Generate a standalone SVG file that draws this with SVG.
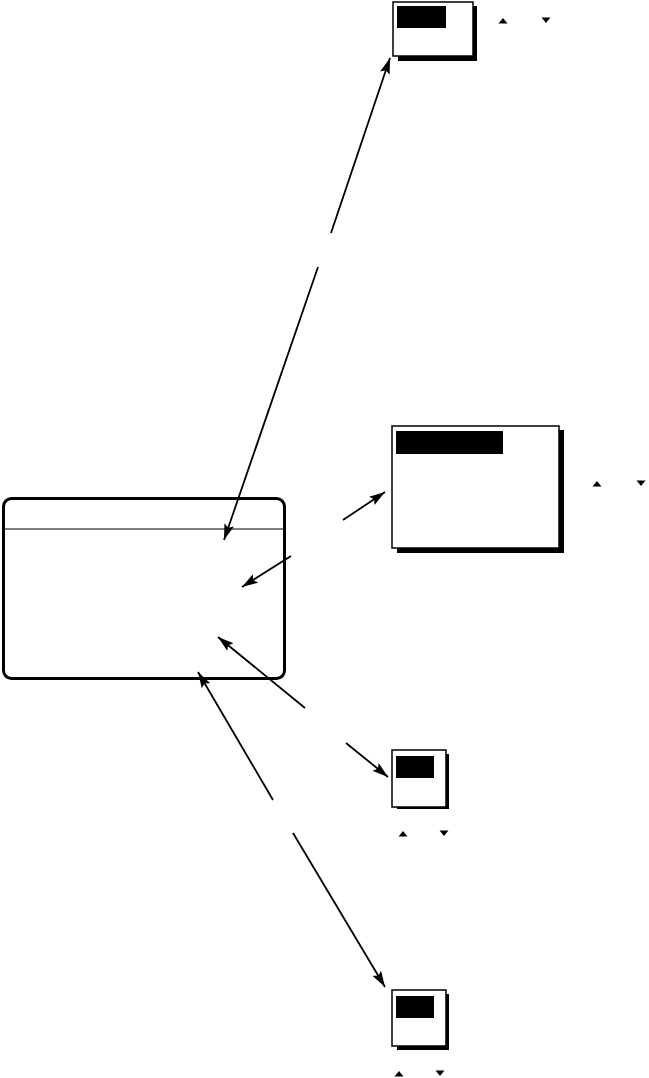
<svg xmlns="http://www.w3.org/2000/svg" width="649" height="1078" viewBox="0 0 649 1078">
<style>
.box{fill:#fff;stroke:#000;stroke-width:1.5}
.shadow{fill:#000}
.hl{fill:#000}
.tri{fill:#000}
.conn{stroke:#000;stroke-width:1.8;fill:none}
</style>
<defs>
<marker id="ah" markerUnits="userSpaceOnUse" markerWidth="17" markerHeight="10" refX="16" refY="5" orient="auto">
<path d="M0,0 L16,5 L0,10 L3,5 Z" fill="#000"/>
</marker>
</defs>
<rect width="649" height="1078" fill="#fff"/>

<g id="main-display">
<rect x="3.5" y="498.5" width="281" height="180" rx="8" fill="#fff" stroke="#000" stroke-width="3"/>
<line x1="3" y1="529" x2="285" y2="529" stroke="#000" stroke-width="1"/>
</g>

<g id="box-top">
<rect class="shadow" x="398" y="6" width="79" height="55"/>
<rect class="box" x="393" y="2" width="80" height="54"/>
<rect class="hl" x="397" y="6" width="49" height="22"/>
<path class="tri" d="M498.5,23.5 L507.5,23.5 L503,18 Z"/>
<path class="tri" d="M541.5,17.5 L550.5,17.5 L546,23 Z"/>
</g>

<g id="box-middle">
<rect class="shadow" x="397" y="430" width="167" height="123"/>
<rect class="box" x="392" y="426" width="167" height="122"/>
<rect class="hl" x="396" y="431" width="107" height="23"/>
<path class="tri" d="M592.5,486.5 L601.5,486.5 L597,481 Z"/>
<path class="tri" d="M636.5,480.5 L645.5,480.5 L641,486 Z"/>
</g>

<g id="box-third">
<rect class="shadow" x="397" y="754" width="52" height="55"/>
<rect class="box" x="392" y="750" width="54" height="57"/>
<rect class="hl" x="396" y="756" width="38" height="22"/>
<path class="tri" d="M398.5,836.5 L407.5,836.5 L403,831 Z"/>
<path class="tri" d="M439.5,830.5 L448.5,830.5 L444,836 Z"/>
</g>

<g id="box-bottom">
<rect class="shadow" x="397" y="994" width="52" height="56"/>
<rect class="box" x="392" y="990" width="54" height="56"/>
<rect class="hl" x="396" y="996" width="38" height="22"/>
<path class="tri" d="M394.5,1076.5 L403.5,1076.5 L399,1071 Z"/>
<path class="tri" d="M435.5,1070.5 L444.5,1070.5 L440,1076 Z"/>
</g>

<g id="connectors">
<line class="conn" x1="331" y1="233" x2="390" y2="58" marker-end="url(#ah)"/>
<line class="conn" x1="318" y1="267" x2="224" y2="540" marker-end="url(#ah)"/>
<line class="conn" x1="343" y1="520" x2="385" y2="492" marker-end="url(#ah)"/>
<line class="conn" x1="291" y1="556" x2="242" y2="587" marker-end="url(#ah)"/>
<line class="conn" x1="305" y1="708" x2="218" y2="637" marker-end="url(#ah)"/>
<line class="conn" x1="273" y1="800" x2="198" y2="672" marker-end="url(#ah)"/>
<line class="conn" x1="293" y1="833" x2="385" y2="987" marker-end="url(#ah)"/>
<line class="conn" x1="346" y1="743" x2="388" y2="777" marker-end="url(#ah)"/>
</g>
</svg>
